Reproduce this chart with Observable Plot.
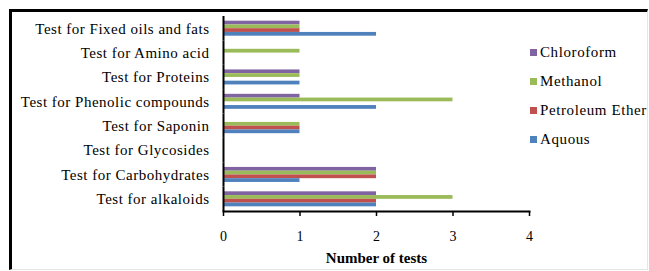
<!DOCTYPE html>
<html>
<head>
<meta charset="utf-8">
<script src="https://cdn.jsdelivr.net/npm/d3@7"></script>
<script src="https://cdn.jsdelivr.net/npm/@observablehq/plot@0.6"></script>
<style>
  html, body { margin: 0; padding: 0; background: #fff; }
  #wrap { position: relative; width: 649px; height: 271px; overflow: hidden; font-family: "Liberation Serif", serif; }
  #border { position: absolute; left: 9px; top: 9px; width: 639px; height: 261px; box-sizing: border-box;
            border-top: 3px solid #000; border-left: 3px solid #000; border-right: 1px solid #e6e6e6; border-bottom: 1px solid #e6e6e6; }
  #chart { position: absolute; left: 0; top: 0; }
  #chart svg, #chart svg text { font-family: "Liberation Serif", serif !important; }
  #legend { position: absolute; left: 530px; top: 38px; }
  #legend, #legend div, #legend span { font-family: "Liberation Serif", serif !important; font-size: 15px !important; color: #000 !important; }
  div.lg-swatches { margin: 0 !important; letter-spacing: 0.6px; }
  div.lg-swatches .lg-swatch { height: 29px; padding: 0 !important; margin: 0 !important; display: flex; align-items: center; }
  div.lg-swatches .lg-swatch svg { margin-right: 3px !important; }
  .yl text { letter-spacing: 0.5px; }
  .xt text { letter-spacing: 0.6px; }
</style>
</head>
<body>
<div id="wrap">
  <div id="border"></div>
  <div id="chart"></div>
  <div id="legend"></div>
</div>
<script>
const categories = [
  "Test for Fixed oils and fats",
  "Test for Amino acid",
  "Test for Proteins",
  "Test for Phenolic compounds",
  "Test for Saponin",
  "Test for Glycosides",
  "Test for Carbohydrates",
  "Test for alkaloids"
];
const series = ["Chloroform", "Methanol", "Petroleum Ether", "Aquous"];
const seriesColors = ["#8064A2", "#9BBB59", "#C0504D", "#4F81BD"];
const xTicks = [0, 1, 2, 3, 4];

// values follow the order of `categories`
const chloroform     = [1, 0, 1, 1, 0, 0, 2, 2];
const methanol       = [1, 1, 1, 3, 1, 0, 2, 3];
const petroleumEther = [1, 0, 0, 0, 1, 0, 2, 2];
const aquous         = [2, 0, 1, 2, 1, 0, 1, 2];

const seriesValues = [chloroform, methanol, petroleumEther, aquous];
const rows = [];
categories.forEach((c, i) => {
  series.forEach((s, j) => rows.push({category: c, series: s, value: seriesValues[j][i]}));
});

const chart = Plot.plot({
  width: 649,
  height: 271,
  marginTop: 16,
  marginBottom: 60,
  marginLeft: 223,
  marginRight: 120,
  style: {fontFamily: "Liberation Serif, serif", fontSize: "14px", color: "#000", background: "transparent", overflow: "visible"},
  x: {domain: [0, 4]},
  y: {domain: series, axis: null, paddingInner: 0, paddingOuter: 1.25, round: false},
  fy: {domain: categories, padding: 0, round: false},
  color: {domain: series, range: seriesColors},
  marks: [
    Plot.barX(rows, {x: "value", y: "series", fy: "category", fill: "series"}),
    Plot.ruleX([0], {stroke: "#000", strokeWidth: 2}),
    Plot.frame({anchor: "bottom", facetAnchor: "bottom", stroke: "#000", strokeWidth: 2}),
    Plot.axisFy({anchor: "left", tickSize: 0, tickPadding: 14, label: null, fontSize: 15, className: "yl"}),
    Plot.axisX({ticks: xTicks, tickSize: 5, tickPadding: 15, label: null, tickFormat: d => d, fontSize: 14, stroke: "#000", strokeWidth: 1.5}),
    Plot.axisX({ticks: [], label: "Number of tests", labelAnchor: "center", labelOffset: 51, labelArrow: "none", fontWeight: "bold", fontSize: 15, className: "xt"})
  ]
});
document.getElementById("chart").appendChild(chart);

const legend = Plot.legend({
  color: {domain: series, range: seriesColors},
  legend: "swatches",
  columns: 1,
  swatchSize: 7,
  className: "lg"
});
document.getElementById("legend").appendChild(legend);
</script>
</body>
</html>
